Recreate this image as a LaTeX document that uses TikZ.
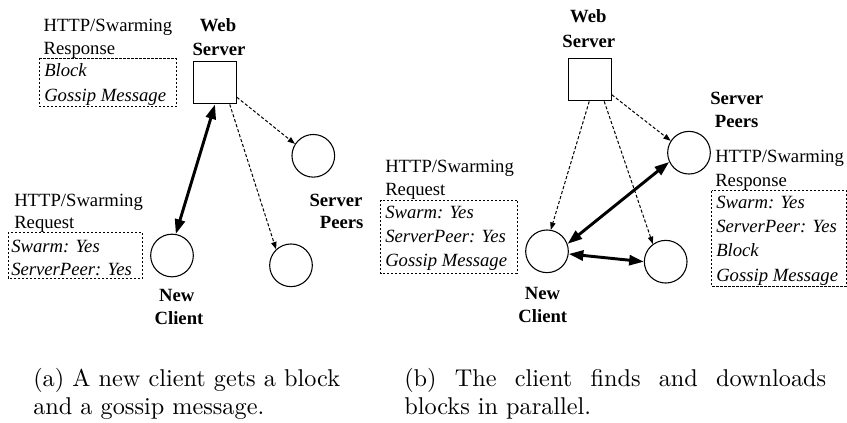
\documentclass[tikz,border=0pt]{standalone}
\usepackage{fontspec}
\newfontfamily\tms{Liberation Serif}
\usetikzlibrary{arrows.meta}
\newcommand{\capline}[1]{\scalebox{1.82}{\fontsize{10}{12}\selectfont #1}}
\begin{document}
\begin{tikzpicture}[x=0.75pt,y=-0.75pt,
  txt/.style={font=\tms\fontsize{14}{17}\selectfont, inner sep=0pt},
  itx/.style={font=\tms\itshape\fontsize{14}{17}\selectfont, inner sep=0pt},
  bld/.style={font=\tms\bfseries\fontsize{14}{17}\selectfont, inner sep=0pt},
  captext/.style={inner sep=0pt},
  srvbox/.style={draw, line width=0.8pt, minimum size=32pt, inner sep=0pt},
  peer/.style={draw, circle, line width=0.8pt, minimum size=32pt, inner sep=0pt},
  msgbox/.style={line width=0.7pt, dash pattern=on 1.6pt off 1.4pt},
  dasharrow/.style={line width=0.75pt, dash pattern=on 2.4pt off 1.5pt, -{Triangle[length=5.5pt,width=4pt]}},
  boldarrow/.style={line width=2.2pt, {Triangle[length=11pt,width=7.5pt]}-{Triangle[length=11pt,width=7.5pt]}}
]
\useasboundingbox (0,0) rectangle (847,422);

% ---------- panel (a) ----------
\node[srvbox] (wsa) at (215,82.5) {};
\node[peer] (spa1) at (313.3,155.8) {};
\node[peer] (spa2) at (291,265.3) {};
\node[peer] (nca) at (172,255.5) {};
\node[bld,anchor=base] (wsa1) at (218,31) {Web};
\node[bld,anchor=base] (wsa2) at (219,55) {Server};
\node[bld,anchor=base] (nca1) at (176.7,301) {New};
\node[bld,anchor=base] (nca2) at (179,324) {Client};
\node[bld,anchor=base] (spa3) at (336,206) {Server};
\node[bld,anchor=base] (spa4) at (341.7,228.7) {Peers};

\node[txt,anchor=base west] (ra1) at (43.3,31) {HTTP/Swarming};
\node[txt,anchor=base west] (ra2) at (43.3,54) {Response};
\draw[msgbox] (39.3,58.3) rectangle (176,106.7);
\node[itx,anchor=base west] (ra3) at (44,76) {Block};
\node[itx,anchor=base west] (ra4) at (44,101) {Gossip Message};

\node[txt,anchor=base west] (qa1) at (14,206) {HTTP/Swarming};
\node[txt,anchor=base west] (qa2) at (14,228) {Request};
\draw[msgbox] (8.3,232.3) rectangle (142.7,278.3);
\node[itx,anchor=base west] (qa3) at (11,252.7) {Swarm: Yes};
\node[itx,anchor=base west] (qa4) at (11,275) {ServerPeer: Yes};

\draw[boldarrow] (nca.80) -- (wsa.south);
\draw[dasharrow] (wsa.-34) -- (spa1.147);
\draw[dasharrow] (wsa.-56) -- (spa2.133);

% ---------- panel (b) ----------
\node[srvbox] (wsb) at (590,79.5) {};
\node[peer] (spb1) at (689,152.7) {};
\node[peer] (spb2) at (665.7,261.7) {};
\node[peer] (ncb) at (547,251.3) {};
\node[bld,anchor=base] (wsb1) at (588.3,22.7) {Web};
\node[bld,anchor=base] (wsb2) at (588.8,47.7) {Server};
\node[bld,anchor=base] (spb3) at (736.7,104.3) {Server};
\node[bld,anchor=base] (spb4) at (736.7,127.7) {Peers};
\node[bld,anchor=base] (ncb1) at (542.5,299.3) {New};
\node[bld,anchor=base] (ncb2) at (542.8,322) {Client};

\node[txt,anchor=base west] (rb1) at (715,162) {HTTP/Swarming};
\node[txt,anchor=base west] (rb2) at (715,186) {Response};
\draw[msgbox] (711.7,190.7) rectangle (846.5,286);
\node[itx,anchor=base west] (rb3) at (716,208.7) {Swarm: Yes};
\node[itx,anchor=base west] (rb4) at (716,232.7) {ServerPeer: Yes};
\node[itx,anchor=base west] (rb5) at (716,256.7) {Block};
\node[itx,anchor=base west] (rb6) at (716,281) {Gossip Message};

\node[txt,anchor=base west] (qb1) at (385,172) {HTTP/Swarming};
\node[txt,anchor=base west] (qb2) at (385,195.3) {Request};
\draw[msgbox] (380.5,200) rectangle (517.3,273.3);
\node[itx,anchor=base west] (qb3) at (385,218.3) {Swarm: Yes};
\node[itx,anchor=base west] (qb4) at (385,242.7) {ServerPeer: Yes};
\node[itx,anchor=base west] (qb5) at (385,266) {Gossip Message};

\draw[dasharrow] (wsb.-92) -- (ncb.80);
\draw[dasharrow] (wsb.-57) -- (spb2.126);
\draw[dasharrow] (wsb.-35) -- (spb1.147);
\draw[boldarrow] (ncb.20) -- (spb1.205);
\draw[boldarrow] (ncb.-7) -- (spb2.180);

% ---------- captions ----------
\node[captext,anchor=base west] (capa1) at (33,386) {\capline{(a) A new client gets a block}};
\node[captext,anchor=base west] (capa2) at (33,414) {\capline{and a gossip message.}};
\node[captext,anchor=base west] (capb1) at (404,386) {\capline{\makebox[173.9pt][s]{(b) The client finds and downloads}}};
\node[captext,anchor=base west] (capb2) at (404,414) {\capline{blocks in parallel.}};
\end{tikzpicture}
\end{document}
